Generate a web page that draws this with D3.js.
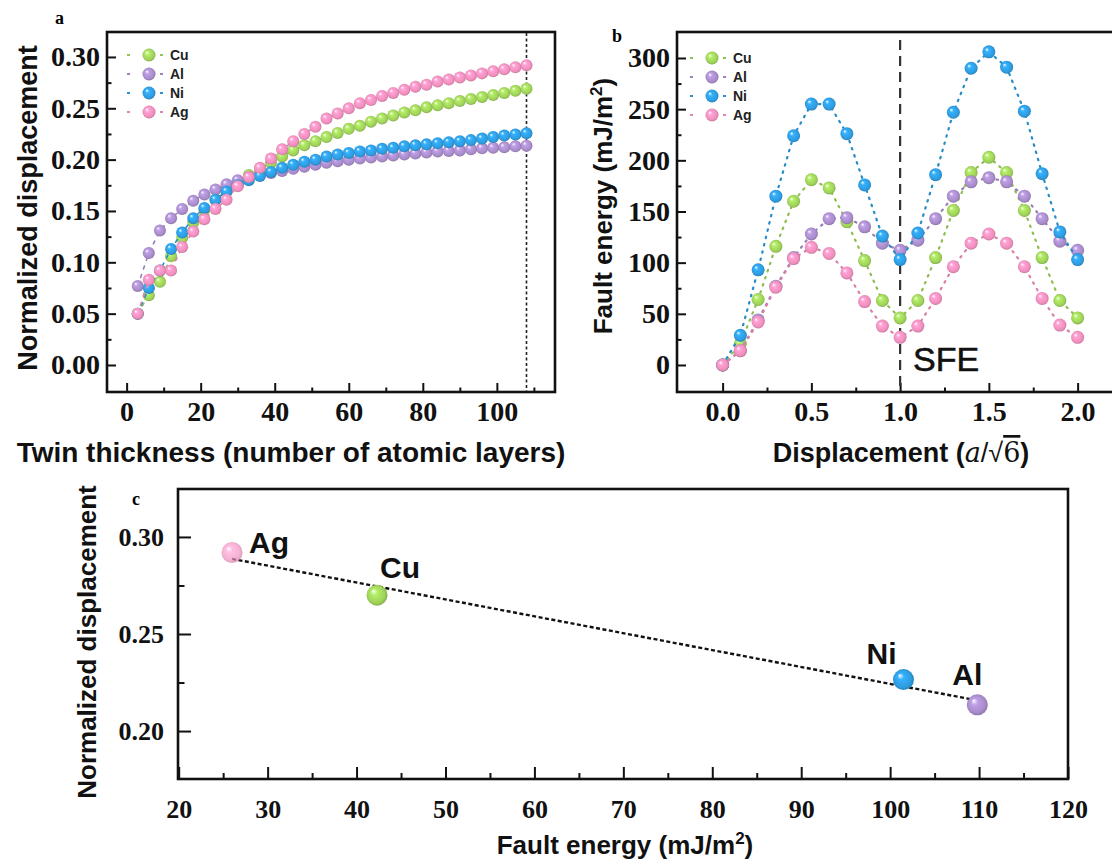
<!DOCTYPE html>
<html>
<head>
<meta charset="utf-8">
<script src="https://cdn.jsdelivr.net/npm/d3@7"></script>
<style>
  body { margin: 0; background: #fff; }
  svg { display: block; }
</style>
</head>
<body>
<script>
// DATA

const metals = ['Cu', 'Al', 'Ni', 'Ag'];

// panel a: normalized displacement vs twin thickness
const layers = [3, 6, 9, 12, 15, 18, 21, 24, 27, 30, 33, 36, 39, 42, 45, 48, 51, 54,
                57, 60, 63, 66, 69, 72, 75, 78, 81, 84, 87, 90, 93, 96, 99, 102, 105, 108];
const dispCu = [0.050, 0.068, 0.081, 0.106, 0.124, 0.139, 0.151, 0.161, 0.170, 0.177, 0.185, 0.191,
                0.197, 0.203, 0.209, 0.214, 0.218, 0.222, 0.226, 0.230, 0.233, 0.237, 0.240, 0.243,
                0.246, 0.248, 0.251, 0.253, 0.255, 0.257, 0.259, 0.261, 0.263, 0.265, 0.267, 0.269];
const dispAl = [0.077, 0.109, 0.131, 0.143, 0.152, 0.160, 0.166, 0.171, 0.176, 0.180, 0.183, 0.185,
                0.187, 0.189, 0.191, 0.193, 0.195, 0.197, 0.1985, 0.200, 0.201, 0.202, 0.203, 0.204,
                0.205, 0.206, 0.207, 0.208, 0.2085, 0.209, 0.210, 0.211, 0.2115, 0.212, 0.213, 0.2136];
const dispNi = [0.050, 0.075, 0.092, 0.113, 0.129, 0.143, 0.153, 0.161, 0.169, 0.175, 0.180, 0.184,
                0.188, 0.192, 0.195, 0.198, 0.200, 0.203, 0.205, 0.2065, 0.208, 0.209, 0.2105, 0.2115,
                0.213, 0.214, 0.215, 0.216, 0.217, 0.218, 0.219, 0.2205, 0.222, 0.2235, 0.2245, 0.2257];
const dispAg = [0.050, 0.083, 0.092, 0.092, 0.115, 0.130, 0.142, 0.152, 0.161, 0.174, 0.183, 0.192,
                0.201, 0.210, 0.218, 0.225, 0.232, 0.240, 0.245, 0.250, 0.255, 0.258, 0.262, 0.265,
                0.268, 0.271, 0.273, 0.276, 0.278, 0.280, 0.282, 0.284, 0.286, 0.288, 0.290, 0.292];
const twinLimit = 108;

// panel b: fault energy vs displacement
const shift = [0.0, 0.1, 0.2, 0.3, 0.4, 0.5, 0.6, 0.7, 0.8, 0.9, 1.0,
               1.1, 1.2, 1.3, 1.4, 1.5, 1.6, 1.7, 1.8, 1.9, 2.0];
const energyCu = [0, 21, 64, 116, 160, 181, 173, 140, 102, 63, 46, 63, 105, 151, 188, 203, 188, 151, 105, 63, 46];
const energyAl = [0, 14, 44, 77, 105, 128, 143, 144, 135, 119, 112, 122, 143, 165, 179, 183, 179, 165, 143, 121, 112];
const energyNi = [0, 29, 93, 165, 224, 255, 255, 226, 176, 126, 103, 129, 186, 247, 290, 306, 291, 248, 187, 130, 103];
const energyAg = [0, 14, 42, 76, 104, 115, 109, 90, 62, 38, 27, 38, 65, 96, 119, 128, 119, 96, 65, 39, 27];
const sfeShift = 1.0;

// panel c: normalized displacement vs stacking fault energy
const fitMetals = ['Ag', 'Cu', 'Ni', 'Al'];
const fitEnergy = [26.0, 42.3, 101.5, 109.8];
const fitDisp = [0.292, 0.270, 0.2265, 0.2135];

// tick values
const ticksAx = [0, 20, 40, 60, 80, 100];
const ticksAy = [0.00, 0.05, 0.10, 0.15, 0.20, 0.25, 0.30];
const ticksBx = [0.0, 0.5, 1.0, 1.5, 2.0];
const ticksBy = [0, 50, 100, 150, 200, 250, 300];
const ticksCx = [20, 30, 40, 50, 60, 70, 80, 90, 100, 110, 120];
const ticksCy = [0.20, 0.25, 0.30];


// STYLE

const palette = { Cu: '#9fd25a', Al: '#a98ccb', Ni: '#2e9ce0', Ag: '#f08fbd' };
const serif = '"Liberation Serif", "Times New Roman", serif';
const sans = '"Liberation Sans", Arial, sans-serif';

const svg = d3.select('body')
    .append('svg')
    .attr('width', 1112)
    .attr('height', 860)
    .style('font-family', sans);

const defs = svg.append('defs');
metals.forEach(function(m) {
    const base = d3.color(palette[m]);
    const grad = defs.append('radialGradient')
        .attr('id', 'ball-' + m)
        .attr('cx', '50%').attr('cy', '50%').attr('r', '55%')
        .attr('fx', '32%').attr('fy', '30%');
    grad.append('stop').attr('offset', '0%').attr('stop-color', '#ffffff');
    grad.append('stop').attr('offset', '28%').attr('stop-color', base.brighter(0.35).formatHex());
    grad.append('stop').attr('offset', '75%').attr('stop-color', base.formatHex());
    grad.append('stop').attr('offset', '100%').attr('stop-color', base.darker(0.7).formatHex());
});


// HELPERS

function frame(x0, y0, x1, y1) {
    svg.append('rect')
        .attr('x', x0).attr('y', y0)
        .attr('width', x1 - x0).attr('height', y1 - y0)
        .attr('fill', 'none')
        .attr('stroke', '#111')
        .attr('stroke-width', 2.6);
}

function bottomAxis(scale, y, major, minor, fmt, size, len, pad) {
    const g = svg.append('g').attr('transform', 'translate(0,' + y + ')');
    g.call(d3.axisBottom(scale).tickValues(minor).tickSize(-len / 2).tickFormat(''));
    g.append('g').call(d3.axisBottom(scale).tickValues(major).tickSize(-len).tickPadding(pad).tickFormat(fmt));
    g.selectAll('.domain').remove();
    g.selectAll('line').attr('stroke', '#111').attr('stroke-width', 2);
    g.selectAll('text')
        .attr('font-family', serif)
        .attr('font-weight', 'bold')
        .attr('font-size', size)
        .attr('fill', '#111');
}

function leftAxis(scale, x, major, minor, fmt, size, len, pad) {
    const g = svg.append('g').attr('transform', 'translate(' + x + ',0)');
    g.call(d3.axisLeft(scale).tickValues(minor).tickSize(-len / 2).tickFormat(''));
    g.append('g').call(d3.axisLeft(scale).tickValues(major).tickSize(-len).tickPadding(pad).tickFormat(fmt));
    g.selectAll('.domain').remove();
    g.selectAll('line').attr('stroke', '#111').attr('stroke-width', 2);
    g.selectAll('text')
        .attr('font-family', serif)
        .attr('font-weight', 'bold')
        .attr('font-size', size)
        .attr('fill', '#111');
}

function series(xs, ys, xScale, yScale, m, r, dash, width) {
    const pts = xs.map(function(v, i) { return [v, ys[i]]; });
    svg.append('path')
        .datum(pts)
        .attr('d', d3.line().x(d => xScale(d[0])).y(d => yScale(d[1])))
        .attr('fill', 'none')
        .attr('stroke', d3.color(palette[m]).darker(0.3).formatHex())
        .attr('stroke-width', width)
        .attr('stroke-linecap', 'round')
        .attr('stroke-dasharray', dash);
    svg.append('g').selectAll('circle')
        .data(pts)
        .enter()
        .append('circle')
        .attr('cx', d => xScale(d[0]))
        .attr('cy', d => yScale(d[1]))
        .attr('r', r)
        .attr('fill', 'url(#ball-' + m + ')');
}

function legend(x, y0, step) {
    metals.forEach(function(m, i) {
        const y = y0 + i * step;
        const c = d3.color(palette[m]).darker(0.2).formatHex();
        [[x - 22, x - 16], [x + 11, x + 17]].forEach(function(s) {
            svg.append('line')
                .attr('x1', s[0]).attr('x2', s[1])
                .attr('y1', y).attr('y2', y)
                .attr('stroke', c).attr('stroke-width', 2)
                .attr('stroke-dasharray', '3,3');
        });
        svg.append('circle').attr('cx', x).attr('cy', y).attr('r', 6.5)
            .attr('fill', 'url(#ball-' + m + ')');
        svg.append('text')
            .attr('x', x + 21).attr('y', y + 5)
            .attr('font-size', 14).attr('font-weight', 'bold')
            .attr('fill', '#222')
            .text(m);
    });
}

function panelLetter(t, x, y) {
    svg.append('text').attr('x', x).attr('y', y)
        .attr('font-family', serif).attr('font-weight', 'bold').attr('font-size', 18)
        .text(t);
}


// PANEL A

const xA = d3.scaleLinear().domain([-5.3, 115.7]).range([107, 555]);
const yA = d3.scaleLinear().domain([-0.0263, 0.3243]).range([392, 32]);

frame(107, 32, 555, 392);
bottomAxis(xA, 392, ticksAx, [10, 30, 50, 70, 90, 110], d3.format('d'), 28, 9, 9);
leftAxis(yA, 107, ticksAy, [0.025, 0.075, 0.125, 0.175, 0.225, 0.275], d3.format('.2f'), 28, 9, 7);

svg.append('line')
    .attr('x1', xA(twinLimit)).attr('x2', xA(twinLimit))
    .attr('y1', 33).attr('y2', 391)
    .attr('stroke', '#222').attr('stroke-width', 1.6)
    .attr('stroke-dasharray', '3,2.5');

series(layers, dispCu, xA, yA, 'Cu', 6, '3,6', 1.6);
series(layers, dispAl, xA, yA, 'Al', 6, '3,6', 1.6);
series(layers, dispNi, xA, yA, 'Ni', 6, '3,6', 1.6);
series(layers, dispAg, xA, yA, 'Ag', 6, '3,6', 1.6);

legend(149, 55, 19);
panelLetter('a', 55, 24);

svg.append('text')
    .attr('transform', 'translate(37,208) rotate(-90)')
    .attr('text-anchor', 'middle')
    .attr('font-size', 27).attr('font-weight', 'bold').attr('fill', '#111')
    .text('Normalized displacement');

svg.append('text')
    .attr('x', 291).attr('y', 462)
    .attr('text-anchor', 'middle')
    .attr('font-size', 28).attr('font-weight', 'bold').attr('fill', '#111')
    .text('Twin thickness (number of atomic layers)');


// PANEL B

const xB = d3.scaleLinear().domain([-0.257, 2.25]).range([677, 1122]);
const yB = d3.scaleLinear().domain([-26.4, 325.4]).range([392, 32]);

frame(677, 32, 1122, 392);
bottomAxis(xB, 392, ticksBx, [0.25, 0.75, 1.25, 1.75], d3.format('.1f'), 28, 9, 9);
leftAxis(yB, 677, ticksBy, [25, 75, 125, 175, 225, 275], d3.format('d'), 28, 9, 7);

svg.append('line')
    .attr('x1', xB(sfeShift)).attr('x2', xB(sfeShift))
    .attr('y1', 40).attr('y2', 391)
    .attr('stroke', '#333').attr('stroke-width', 2.2)
    .attr('stroke-dasharray', '10,6');

series(shift, energyCu, xB, yB, 'Cu', 6.5, '1.5,6', 2.2);
series(shift, energyAl, xB, yB, 'Al', 6.5, '1.5,6', 2.2);
series(shift, energyNi, xB, yB, 'Ni', 6.5, '1.5,6', 2.2);
series(shift, energyAg, xB, yB, 'Ag', 6.5, '1.5,6', 2.2);

legend(712, 58, 19);
panelLetter('b', 612, 42);

svg.append('text')
    .attr('x', xB(sfeShift) + 13).attr('y', 371)
    .attr('font-size', 34).attr('fill', '#111')
    .attr('stroke', '#111').attr('stroke-width', 0.6)
    .text('SFE');

const titleB = svg.append('text')
    .attr('transform', 'translate(612,206) rotate(-90)')
    .attr('text-anchor', 'middle')
    .attr('font-size', 26).attr('font-weight', 'bold').attr('fill', '#111');
titleB.append('tspan').text('Fault energy (mJ/m');
titleB.append('tspan').attr('font-size', 17).attr('dy', -10).text('2');
titleB.append('tspan').attr('dy', 10).text(')');

const titleBx = svg.append('text')
    .attr('x', 901).attr('y', 462)
    .attr('text-anchor', 'middle')
    .attr('font-size', 27).attr('font-weight', 'bold').attr('fill', '#111');
titleBx.append('tspan').text('Displacement (');
titleBx.append('tspan').attr('font-family', '"DejaVu Serif", serif').attr('font-style', 'italic')
    .attr('font-weight', 'normal').text('a');
titleBx.append('tspan').attr('font-weight', 'normal').text('/√');
titleBx.append('tspan').attr('font-family', '"DejaVu Serif", serif').attr('font-weight', 'normal')
    .style('text-decoration', 'overline').text('6');
titleBx.append('tspan').text(')');


// PANEL C

const xC = d3.scaleLinear().domain([20, 120]).range([178.7, 1068]);
const yC = d3.scaleLinear().domain([0.1753, 0.3247]).range([779, 489]);

frame(178, 489, 1068, 779);
bottomAxis(xC, 779, ticksCx, [25, 35, 45, 55, 65, 75, 85, 95, 105, 115], d3.format('d'), 26, 12, 21);
leftAxis(yC, 178, ticksCy, [0.225, 0.275], d3.format('.2f'), 26, 13, 14);

// least-squares fit through the four metals
const mx = d3.mean(fitEnergy);
const my = d3.mean(fitDisp);
const slope = d3.sum(fitEnergy, (v, i) => (v - mx) * (fitDisp[i] - my)) /
              d3.sum(fitEnergy, v => (v - mx) * (v - mx));
const fitEnds = d3.extent(fitEnergy);

svg.append('line')
    .attr('x1', xC(fitEnds[0])).attr('y1', yC(my + slope * (fitEnds[0] - mx)))
    .attr('x2', xC(fitEnds[1])).attr('y2', yC(my + slope * (fitEnds[1] - mx)))
    .attr('stroke', '#111').attr('stroke-width', 2.4)
    .attr('stroke-dasharray', '4,2.5');

const labelOffset = { Ag: [17, 1], Cu: [3, -17], Ni: [-37, -16], Al: [-25, -20] };

fitMetals.forEach(function(m, i) {
    svg.append('circle')
        .attr('cx', xC(fitEnergy[i]))
        .attr('cy', yC(fitDisp[i]))
        .attr('r', 10.5)
        .attr('fill', 'url(#ball-' + m + ')')
        .attr('opacity', m === 'Ag' ? 0.7 : 1);
    svg.append('text')
        .attr('x', xC(fitEnergy[i]) + labelOffset[m][0])
        .attr('y', yC(fitDisp[i]) + labelOffset[m][1])
        .attr('font-size', 30).attr('font-weight', 'bold').attr('fill', '#111')
        .text(m);
});

panelLetter('c', 132, 505);

svg.append('text')
    .attr('transform', 'translate(96,642) rotate(-90)')
    .attr('text-anchor', 'middle')
    .attr('font-size', 26).attr('font-weight', 'bold').attr('fill', '#111')
    .text('Normalized displacement');

const titleC = svg.append('text')
    .attr('x', 625).attr('y', 854)
    .attr('text-anchor', 'middle')
    .attr('font-size', 26).attr('font-weight', 'bold').attr('fill', '#111');
titleC.append('tspan').text('Fault energy (mJ/m');
titleC.append('tspan').attr('font-size', 17).attr('dy', -10).text('2');
titleC.append('tspan').attr('dy', 10).text(')');
</script>
</body>
</html>
